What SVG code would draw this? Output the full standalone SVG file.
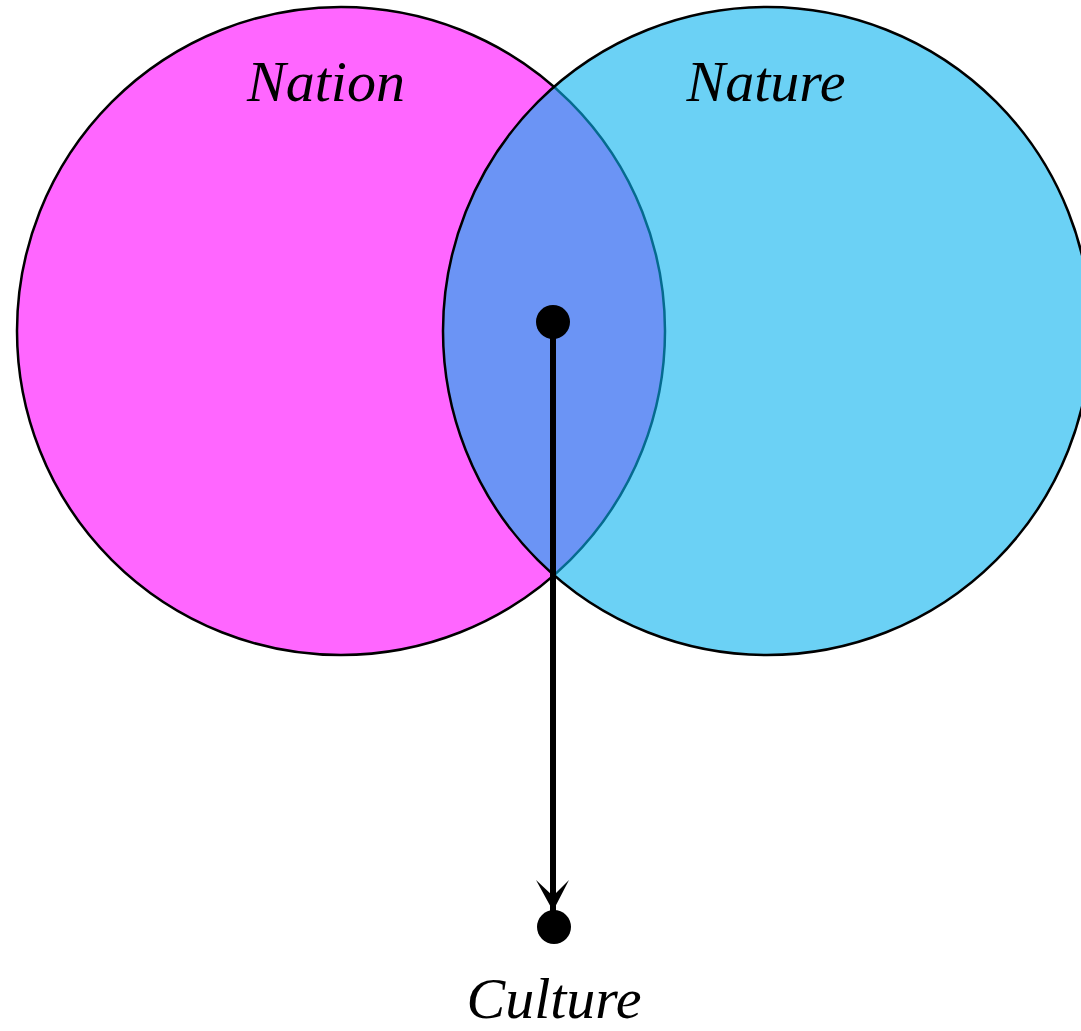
<svg xmlns="http://www.w3.org/2000/svg" width="1081" height="1031" viewBox="0 0 1081 1031">
<style>
.lbl{font-family:"Liberation Serif","Times New Roman",serif;font-style:italic;font-size:58px;fill:#000;text-anchor:middle}
.circ{stroke:#000;stroke-width:2.5}
.dot{fill:#000}
</style>
<defs>
<marker id="arr" markerUnits="userSpaceOnUse" markerWidth="40" markerHeight="40" viewBox="-36 -20 40 40" refX="0" refY="0" orient="auto">
<path d="M0,0 L-31,-16 L-15,0 L-31,17 Z" fill="#000"/>
</marker>
</defs>
<rect width="1081" height="1031" fill="#fff"/>
<g id="nation">
<circle class="circ" cx="341" cy="331" r="324" fill="#ff66ff"/>
<text class="lbl" x="326" y="101">Nation</text>
</g>
<g id="nature">
<circle class="circ" cx="767" cy="331" r="324" fill="rgb(8,178,238)" fill-opacity="0.6"/>
<text class="lbl" x="766" y="101">Nature</text>
</g>
<g id="source">
<circle class="dot" cx="553" cy="322" r="17"/>
</g>
<g id="culture">
<circle class="dot" cx="554" cy="927" r="17"/>
<text class="lbl" x="554" y="1018">Culture</text>
</g>
<g id="connectors">
<line x1="553" y1="322" x2="553" y2="911" stroke="#000" stroke-width="6" marker-end="url(#arr)"/>
</g>
</svg>
